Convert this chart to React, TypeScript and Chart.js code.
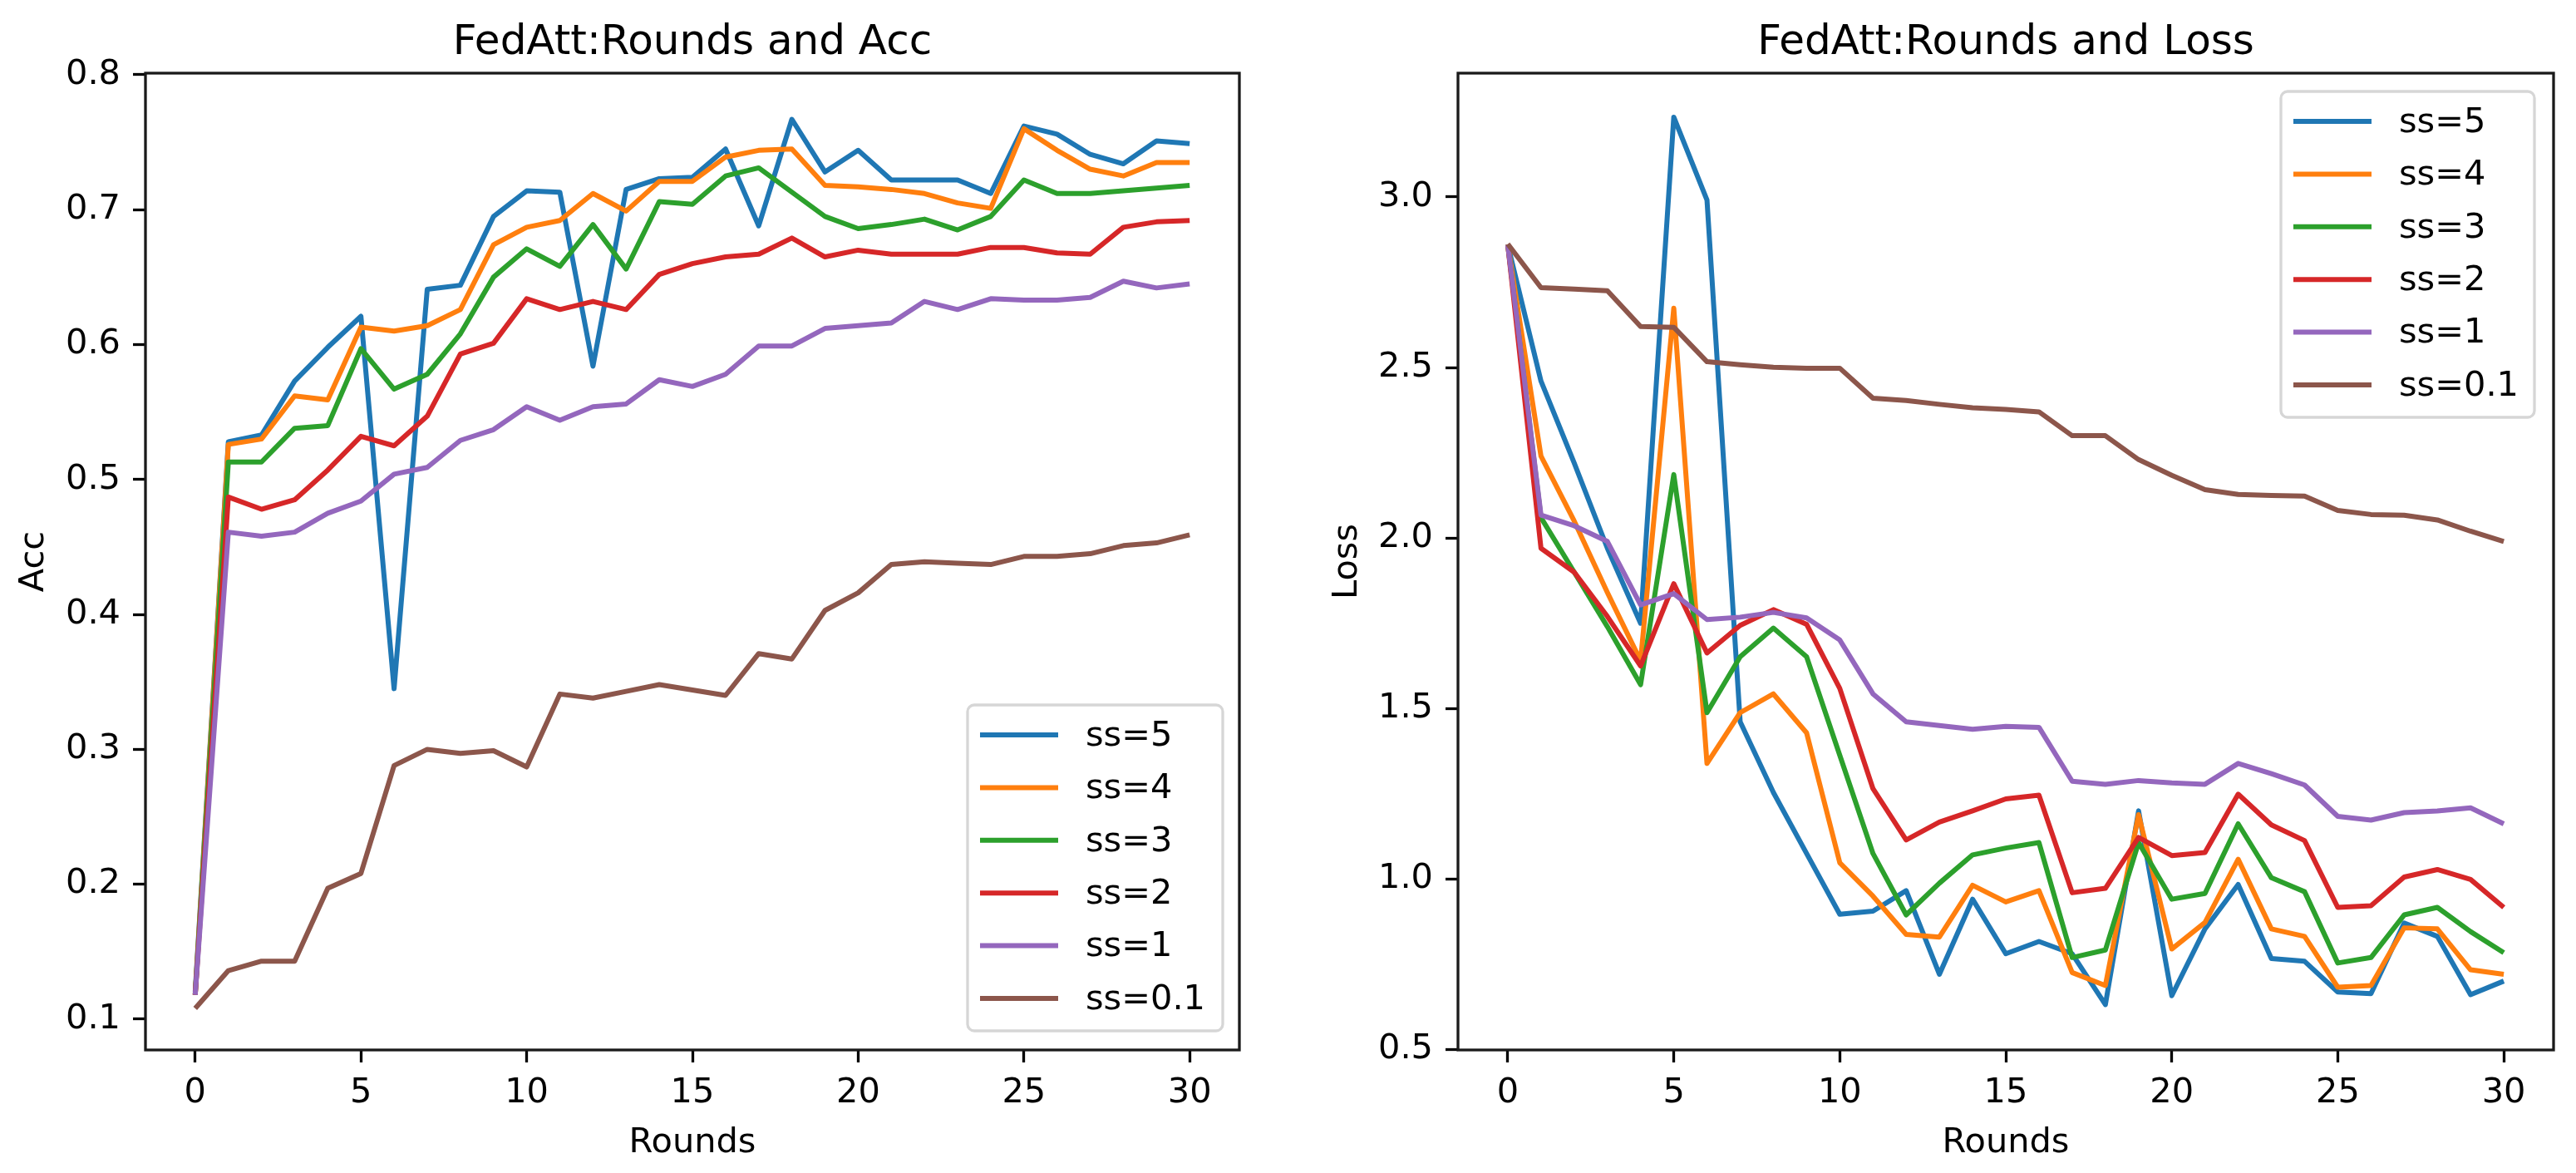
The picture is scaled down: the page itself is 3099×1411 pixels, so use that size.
import React, { useEffect, useRef } from "react";
import { Chart, registerables } from "chart.js";

Chart.register(...registerables);

// ---------------- data ----------------
const rounds = [0, 1, 2, 3, 4, 5, 6, 7, 8, 9, 10, 11, 12, 13, 14, 15, 16, 17, 18, 19, 20, 21, 22, 23, 24, 25, 26, 27, 28, 29, 30];
const seriesLabels = ["ss=5", "ss=4", "ss=3", "ss=2", "ss=1", "ss=0.1"];
const seriesColors = ["#1f77b4", "#ff7f0e", "#2ca02c", "#d62728", "#9467bd", "#8c564b"];

const roundTicks = [0, 5, 10, 15, 20, 25, 30];
const accTicks = [0.1, 0.2, 0.3, 0.4, 0.5, 0.6, 0.7, 0.8];
const lossTicks = [0.5, 1.0, 1.5, 2.0, 2.5, 3.0];

const accSs5 = [0.120, 0.528, 0.533, 0.573, 0.598, 0.621, 0.345, 0.641, 0.644, 0.695, 0.714, 0.713, 0.584, 0.715, 0.723, 0.724, 0.745, 0.688, 0.767, 0.728, 0.744, 0.722, 0.722, 0.722, 0.712, 0.762, 0.756, 0.741, 0.734, 0.751, 0.749];
const accSs4 = [0.118, 0.526, 0.530, 0.562, 0.559, 0.613, 0.610, 0.614, 0.626, 0.674, 0.687, 0.692, 0.712, 0.699, 0.721, 0.721, 0.739, 0.744, 0.745, 0.718, 0.717, 0.715, 0.712, 0.705, 0.701, 0.760, 0.744, 0.730, 0.725, 0.735, 0.735];
const accSs3 = [0.118, 0.513, 0.513, 0.538, 0.540, 0.597, 0.567, 0.578, 0.608, 0.650, 0.671, 0.658, 0.689, 0.656, 0.706, 0.704, 0.725, 0.731, 0.713, 0.695, 0.686, 0.689, 0.693, 0.685, 0.695, 0.722, 0.712, 0.712, 0.714, 0.716, 0.718];
const accSs2 = [0.118, 0.487, 0.478, 0.485, 0.507, 0.532, 0.525, 0.547, 0.593, 0.601, 0.634, 0.626, 0.632, 0.626, 0.652, 0.660, 0.665, 0.667, 0.679, 0.665, 0.670, 0.667, 0.667, 0.667, 0.672, 0.672, 0.668, 0.667, 0.687, 0.691, 0.692];
const accSs1 = [0.118, 0.461, 0.458, 0.461, 0.475, 0.484, 0.504, 0.509, 0.529, 0.537, 0.554, 0.544, 0.554, 0.556, 0.574, 0.569, 0.578, 0.599, 0.599, 0.612, 0.614, 0.616, 0.632, 0.626, 0.634, 0.633, 0.633, 0.635, 0.647, 0.642, 0.645];
const accSs01 = [0.108, 0.136, 0.143, 0.143, 0.197, 0.208, 0.288, 0.300, 0.297, 0.299, 0.287, 0.341, 0.338, 0.343, 0.348, 0.344, 0.340, 0.371, 0.367, 0.403, 0.416, 0.437, 0.439, 0.438, 0.437, 0.443, 0.443, 0.445, 0.451, 0.453, 0.459];

const lossSs5 = [2.86, 2.46, 2.22, 1.97, 1.75, 3.234, 2.991, 1.461, 1.254, 1.075, 0.897, 0.906, 0.966, 0.721, 0.941, 0.781, 0.817, 0.781, 0.632, 1.200, 0.658, 0.854, 0.984, 0.767, 0.759, 0.669, 0.664, 0.871, 0.832, 0.661, 0.701];
const lossSs4 = [2.86, 2.24, 2.05, 1.84, 1.64, 2.674, 1.339, 1.488, 1.543, 1.429, 1.048, 0.950, 0.838, 0.830, 0.982, 0.933, 0.966, 0.726, 0.688, 1.189, 0.795, 0.873, 1.058, 0.854, 0.832, 0.683, 0.688, 0.857, 0.854, 0.734, 0.721];
const lossSs3 = [2.86, 2.06, 1.90, 1.74, 1.57, 2.186, 1.488, 1.652, 1.736, 1.652, 1.363, 1.075, 0.895, 0.988, 1.071, 1.091, 1.107, 0.770, 0.792, 1.107, 0.941, 0.958, 1.162, 1.004, 0.963, 0.754, 0.770, 0.895, 0.917, 0.846, 0.784];
const lossSs2 = [2.86, 1.97, 1.90, 1.77, 1.625, 1.866, 1.663, 1.744, 1.790, 1.747, 1.559, 1.265, 1.115, 1.167, 1.200, 1.235, 1.246, 0.960, 0.973, 1.122, 1.069, 1.078, 1.249, 1.159, 1.113, 0.917, 0.922, 1.006, 1.028, 0.999, 0.917];
const lossSs1 = [2.86, 2.067, 2.036, 1.99, 1.804, 1.837, 1.761, 1.768, 1.782, 1.766, 1.701, 1.543, 1.461, 1.450, 1.439, 1.448, 1.445, 1.287, 1.278, 1.289, 1.282, 1.278, 1.339, 1.309, 1.276, 1.184, 1.173, 1.195, 1.200, 1.209, 1.162];
const lossSs01 = [2.862, 2.734, 2.730, 2.725, 2.620, 2.618, 2.517, 2.508, 2.501, 2.498, 2.498, 2.410, 2.403, 2.392, 2.382, 2.377, 2.370, 2.300, 2.300, 2.230, 2.184, 2.142, 2.128, 2.125, 2.123, 2.081, 2.069, 2.067, 2.053, 2.020, 1.990];

// ---------------- layout ----------------
const FONT = "'DejaVu Sans', 'Liberation Sans', sans-serif";
const PAGE_W = 3099;
const PAGE_H = 1411;

type PanelSpec = {
  title: string;
  yLabel: string;
  series: number[][];
  yTicks: number[];
  yMin: number;
  yMax: number;
  yDecimals: number;
  canvasLeft: number;
  canvasWidth: number;
  area: { left: number; right: number; top: number; bottom: number };
  legend: { x: number; y: number; w: number; h: number };
  yLabelX: number;
};

const panels: PanelSpec[] = [
  {
    title: "FedAtt:Rounds and Acc",
    yLabel: "Acc",
    series: [accSs5, accSs4, accSs3, accSs2, accSs1, accSs01],
    yTicks: accTicks,
    yMin: 0.0772,
    yMax: 0.8012,
    yDecimals: 1,
    canvasLeft: 0,
    canvasWidth: 1560,
    area: { left: 175, right: 1491, top: 88, bottom: 1263 },
    legend: { x: 1164, y: 848, w: 307, h: 392 },
    yLabelX: 52,
  },
  {
    title: "FedAtt:Rounds and Loss",
    yLabel: "Loss",
    series: [lossSs5, lossSs4, lossSs3, lossSs2, lossSs1, lossSs01],
    yTicks: lossTicks,
    yMin: 0.499,
    yMax: 3.363,
    yDecimals: 1,
    canvasLeft: 1560,
    canvasWidth: 1539,
    area: { left: 194, right: 1512, top: 88, bottom: 1263 },
    legend: { x: 1184, y: 110, w: 305, h: 392 },
    yLabelX: 72,
  },
];

function makeDecorPlugin(spec: PanelSpec) {
  return {
    id: "mplDecor",
    afterDatasetsDraw(chart: any) {
      const ctx = chart.ctx as CanvasRenderingContext2D;
      const a = chart.chartArea;
      ctx.save();
      ctx.strokeStyle = "#1a1a1a";
      ctx.lineWidth = 3.3;
      ctx.strokeRect(a.left, a.top, a.right - a.left, a.bottom - a.top);
      ctx.restore();
    },
    afterDraw(chart: any) {
      const ctx = chart.ctx as CanvasRenderingContext2D;
      const a = chart.chartArea;
      const cx = (a.left + a.right) / 2;
      const cy = (a.top + a.bottom) / 2;
      ctx.save();
      ctx.fillStyle = "#000";
      // title
      ctx.font = `50px ${FONT}`;
      ctx.textAlign = "center";
      ctx.textBaseline = "alphabetic";
      ctx.fillText(spec.title, cx, 65);
      // x label
      ctx.font = `41.5px ${FONT}`;
      ctx.fillText("Rounds", cx, 1386);
      // y label
      ctx.save();
      ctx.translate(spec.yLabelX, cy);
      ctx.rotate(-Math.PI / 2);
      ctx.fillText(spec.yLabel, 0, 0);
      ctx.restore();

      // legend
      const L = spec.legend;
      const r = 8;
      ctx.beginPath();
      ctx.moveTo(L.x + r, L.y);
      ctx.lineTo(L.x + L.w - r, L.y);
      ctx.arcTo(L.x + L.w, L.y, L.x + L.w, L.y + r, r);
      ctx.lineTo(L.x + L.w, L.y + L.h - r);
      ctx.arcTo(L.x + L.w, L.y + L.h, L.x + L.w - r, L.y + L.h, r);
      ctx.lineTo(L.x + r, L.y + L.h);
      ctx.arcTo(L.x, L.y + L.h, L.x, L.y + L.h - r, r);
      ctx.lineTo(L.x, L.y + r);
      ctx.arcTo(L.x, L.y, L.x + r, L.y, r);
      ctx.closePath();
      ctx.fillStyle = "rgba(255,255,255,0.8)";
      ctx.fill();
      ctx.strokeStyle = "#d6d6d6";
      ctx.lineWidth = 3.3;
      ctx.stroke();

      const datasets = chart.data.datasets;
      ctx.font = `41.5px ${FONT}`;
      ctx.textAlign = "left";
      ctx.textBaseline = "middle";
      for (let i = 0; i < datasets.length; i++) {
        const y = L.y + 36 + i * 63.4;
        ctx.strokeStyle = datasets[i].borderColor;
        ctx.lineWidth = 6;
        ctx.lineCap = "butt";
        ctx.beginPath();
        ctx.moveTo(L.x + 15, y);
        ctx.lineTo(L.x + 109, y);
        ctx.stroke();
        ctx.fillStyle = "#000";
        ctx.fillText(datasets[i].label, L.x + 142, y + 2);
      }
      ctx.restore();
    },
  };
}

function ChartPanel({ spec }: { spec: PanelSpec }) {
  const ref = useRef<HTMLCanvasElement | null>(null);

  useEffect(() => {
    if (!ref.current) return;
    const datasets = spec.series.map((vals, i) => ({
      label: seriesLabels[i],
      data: rounds.map((r, j) => ({ x: r, y: vals[j] })),
      borderColor: seriesColors[i],
      backgroundColor: seriesColors[i],
      borderWidth: 6,
      pointRadius: 0,
      tension: 0,
      fill: false,
      order: -i,
      borderJoinStyle: "round" as const,
      borderCapStyle: "butt" as const,
    }));
    const tickFont = { family: FONT, size: 41.5 };
    const chart = new Chart(ref.current, {
      type: "line",
      data: { datasets },
      options: {
        animation: false,
        responsive: false,
        maintainAspectRatio: false,
        events: [],
        layout: {
          padding: { top: spec.area.top, right: spec.canvasWidth - spec.area.right, bottom: 0, left: 0 },
        },
        plugins: {
          legend: { display: false },
          title: { display: false },
          tooltip: { enabled: false },
        },
        scales: {
          x: {
            type: "linear",
            min: -1.5,
            max: 31.5,
            afterBuildTicks: (scale: any) => {
              scale.ticks = roundTicks.map((v) => ({ value: v }));
            },
            afterFit: (scale: any) => {
              scale.height = PAGE_H - spec.area.bottom;
            },
            grid: {
              display: true,
              drawOnChartArea: false,
              drawTicks: true,
              tickLength: 15,
              tickWidth: 3.3,
              tickColor: "#000",
            },
            border: { display: false },
            ticks: {
              font: tickFont,
              color: "#000",
              padding: 12,
              maxRotation: 0,
              autoSkip: false,
              callback: (v: any) => String(v),
            },
          },
          y: {
            type: "linear",
            min: spec.yMin,
            max: spec.yMax,
            afterBuildTicks: (scale: any) => {
              scale.ticks = spec.yTicks.map((v) => ({ value: v }));
            },
            afterFit: (scale: any) => {
              scale.width = spec.area.left;
            },
            grid: {
              display: true,
              drawOnChartArea: false,
              drawTicks: true,
              tickLength: 15,
              tickWidth: 3.3,
              tickColor: "#000",
            },
            border: { display: false },
            ticks: {
              font: tickFont,
              color: "#000",
              padding: 15,
              autoSkip: false,
              callback: (v: any) => Number(v).toFixed(spec.yDecimals),
            },
          },
        },
      } as any,
      plugins: [makeDecorPlugin(spec)],
    });
    return () => chart.destroy();
  }, [spec]);

  return (
    <canvas
      ref={ref}
      width={spec.canvasWidth}
      height={PAGE_H}
      style={{
        position: "absolute",
        left: spec.canvasLeft,
        top: 0,
        width: spec.canvasWidth,
        height: PAGE_H,
      }}
    />
  );
}

export default function App() {
  useEffect(() => {
    document.body.style.margin = "0";
    document.body.style.overflow = "hidden";
    document.body.style.background = "#fff";
  }, []);
  return (
    <div
      style={{
        position: "absolute",
        left: 0,
        top: 0,
        width: PAGE_W,
        height: PAGE_H,
        background: "#fff",
        overflow: "hidden",
      }}
    >
      {panels.map((p) => (
        <ChartPanel key={p.title} spec={p} />
      ))}
    </div>
  );
}
